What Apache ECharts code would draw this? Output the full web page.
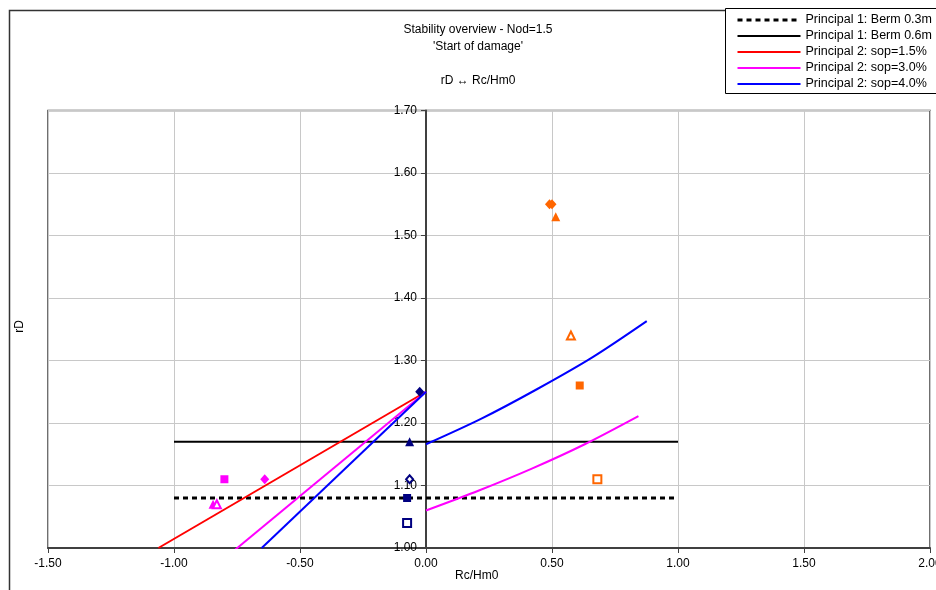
<!DOCTYPE html>
<html>
<head>
<meta charset="utf-8">
<script src="https://cdn.jsdelivr.net/npm/echarts@6/dist/echarts.min.js"></script>
<style>
  html, body { margin: 0; padding: 0; background: #fff; }
</style>
</head>
<body>
<div id="myChart" style="width: 936px; height: 590px;"></div>
<script>
  // axis ticks
  let xTicks = [-1.5, -1.0, -0.5, 0, 0.5, 1.0, 1.5, 2.0];
  let yTicks = [1.0, 1.1, 1.2, 1.3, 1.4, 1.5, 1.6, 1.7];

  // design lines  [Rc/Hm0, rD]
  let berm03 = [[-1.0, 1.08], [1.0, 1.08]];
  let berm06 = [[-1.0, 1.17], [1.0, 1.17]];
  let sop15 = [[-1.062, 1.0], [0, 1.25]];
  let sop30Left = [[-0.77, 0.993], [0, 1.25]];
  let sop30Right = [[0, 1.06], [0.21, 1.092], [0.42, 1.127], [0.63, 1.166], [0.843, 1.211]];
  let sop40Left = [[-0.652, 1.0], [0, 1.25]];
  let sop40Right = [[0, 1.166], [0.22, 1.207], [0.44, 1.254], [0.66, 1.305], [0.876, 1.363]];

  // measured points
  let orangeDiamond = [[0.49, 1.55], [0.50, 1.55]];
  let orangeTriangle = [[0.515, 1.53]];
  let orangeTriangleOpen = [[0.575, 1.34]];
  let orangeSquare = [[0.61, 1.26]];
  let orangeSquareOpen = [[0.68, 1.11]];
  let navyDiamond = [[-0.025, 1.25]];
  let navyTriangle = [[-0.065, 1.17]];
  let navyDiamondOpen = [[-0.065, 1.11]];
  let navySquare = [[-0.075, 1.08]];
  let navySquareOpen = [[-0.075, 1.04]];
  let magentaSquare = [[-0.80, 1.11]];
  let magentaDiamond = [[-0.64, 1.11]];
  let magentaTriangle = [[-0.845, 1.07]];
  let magentaTriangleOpen = [[-0.83, 1.07]];

  const FONT = '"Liberation Sans", Arial, sans-serif';

  function lineSeries(name, data, color, width, type) {
    return {
      name: name,
      type: 'line',
      data: data,
      symbol: 'none',
      smooth: data.length > 2 ? 0.3 : false,
      lineStyle: {color: color, width: width, type: type || 'solid'},
      itemStyle: {color: color},
      z: 3
    };
  }

  function marks(data, symbol, size, color, open) {
    return {
      type: 'scatter',
      data: data,
      symbol: symbol,
      symbolSize: size,
      itemStyle: open
        ? {color: '#fff', borderColor: color, borderWidth: 2, opacity: 1}
        : {color: color, opacity: 1},
      z: 5
    };
  }

  let myChart = echarts.init(document.getElementById('myChart'));

  // pixel distance from grid left edge to x = 0, so the y axis sits on zero
  let gridLeft = 48, gridRight = 6, width = 936;
  let plotW = width - gridLeft - gridRight;
  let yAxisOffset = plotW * (0 - xTicks[0]) / (xTicks[xTicks.length - 1] - xTicks[0]);

  let options = {
    animation: false,
    textStyle: {fontFamily: FONT},
    title: {
      text: "Stability overview - Nod=1.5\n'Start of damage'\n\nrD \u2194 Rc/Hm0",
      left: 478,
      top: 21,
      textAlign: 'center',
      padding: 0,
      textStyle: {fontSize: 12, fontWeight: 'normal', color: '#000', lineHeight: 17, fontFamily: FONT}
    },
    legend: {
      orient: 'vertical',
      left: 736,
      top: 13,
      padding: 0,
      itemWidth: 63,
      itemHeight: 10,
      itemGap: 2,
      selectedMode: false,
      itemStyle: {opacity: 0},
      lineStyle: {width: 'inherit'},
      textStyle: {fontSize: 12.5, color: '#000', lineHeight: 14, fontFamily: FONT},
      data: ['Principal 1: Berm 0.3m', 'Principal 1: Berm 0.6m', 'Principal 2: sop=1.5%',
             'Principal 2: sop=3.0%', 'Principal 2: sop=4.0%']
    },
    graphic: [
      {type: 'rect', shape: {x: 9.5, y: 10.5, width: 1000, height: 1000},
       style: {fill: 'none', stroke: '#333', lineWidth: 1.5}, z: -10},
      {type: 'rect', shape: {x: 725.5, y: 8.5, width: 300, height: 85},
       style: {fill: '#fff', stroke: '#000', lineWidth: 1}, z: -5},
      {type: 'text', left: 455, top: 570,
       style: {text: 'Rc/Hm0', fill: '#000', font: '12px ' + FONT}},
      {type: 'text', left: 14, top: 320, rotation: Math.PI / 2,
       style: {text: 'rD', fill: '#000', font: '12px ' + FONT}}
    ],
    grid: {
      left: gridLeft, top: 110.5, right: gridRight, bottom: 42,
      outerBoundsMode: 'none',
      containLabel: false,
      show: true, borderColor: '#404040', borderWidth: 1.5
    },
    xAxis: {
      type: 'value',
      min: xTicks[0],
      max: xTicks[xTicks.length - 1],
      interval: 0.5,
      axisLine: {onZero: false, lineStyle: {color: '#404040', width: 2}},
      axisTick: {show: true, length: 5, lineStyle: {color: '#404040'}},
      axisLabel: {color: '#000', fontSize: 12, margin: 10, formatter: v => v.toFixed(2)},
      splitLine: {show: true, lineStyle: {color: '#c8c8c8', width: 1}}
    },
    yAxis: {
      type: 'value',
      min: yTicks[0],
      max: yTicks[yTicks.length - 1],
      interval: 0.1,
      offset: -yAxisOffset,
      axisLine: {onZero: false, lineStyle: {color: '#404040', width: 2}},
      axisTick: {show: true, length: 5, lineStyle: {color: '#404040'}},
      axisLabel: {color: '#000', fontSize: 12, margin: 9, formatter: v => v.toFixed(2)},
      splitLine: {show: true, lineStyle: {color: '#c8c8c8', width: 1}}
    },
    series: [
      lineSeries('Principal 1: Berm 0.3m', berm03, '#000', 3, [5, 4]),
      lineSeries('Principal 1: Berm 0.6m', berm06, '#000', 2),
      lineSeries('Principal 2: sop=1.5%', sop15, '#ff0000', 2),
      lineSeries('Principal 2: sop=3.0%', sop30Left, '#ff00ff', 2),
      lineSeries('Principal 2: sop=3.0%', sop30Right, '#ff00ff', 2),
      lineSeries('Principal 2: sop=4.0%', sop40Left, '#0000ff', 2),
      lineSeries('Principal 2: sop=4.0%', sop40Right, '#0000ff', 2),
      marks(orangeDiamond, 'diamond', [9, 10], '#ff6600'),
      marks(orangeTriangle, 'triangle', 9, '#ff6600'),
      marks(orangeTriangleOpen, 'triangle', 8, '#ff6600', true),
      marks(orangeSquare, 'rect', 8, '#ff6600'),
      marks(orangeSquareOpen, 'rect', 8, '#ff6600', true),
      marks(navyDiamond, 'diamond', [9, 10], '#000080'),
      marks(navyTriangle, 'triangle', 9, '#000080'),
      marks(navyDiamondOpen, 'diamond', [7, 8], '#000080', true),
      marks(navySquare, 'rect', 8, '#000080'),
      marks(navySquareOpen, 'rect', 8, '#000080', true),
      marks(magentaSquare, 'rect', 8, '#ff00ff'),
      marks(magentaDiamond, 'diamond', [9, 10], '#ff00ff'),
      marks(magentaTriangle, 'triangle', 9, '#ff00ff'),
      marks(magentaTriangleOpen, 'triangle', 8, '#ff00ff', true)
    ]
  };
  myChart.setOption(options);
</script>
</body>
</html>
